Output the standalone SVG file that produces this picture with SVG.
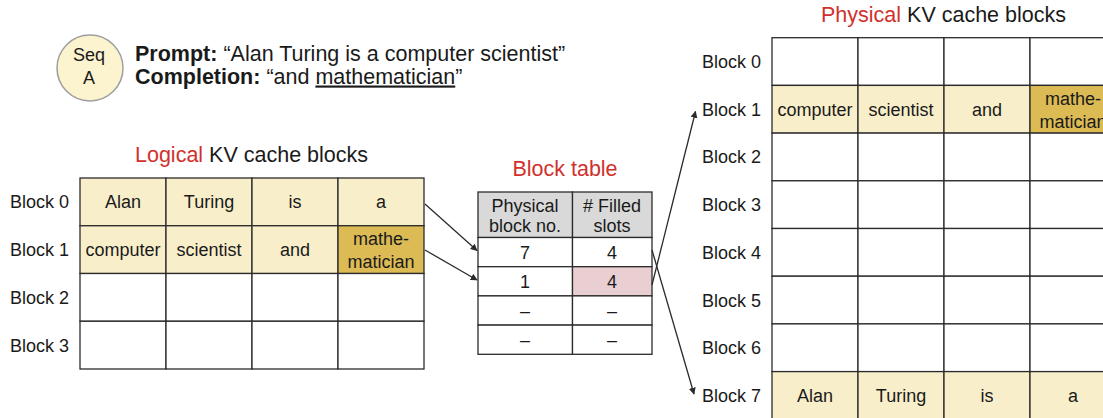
<svg xmlns="http://www.w3.org/2000/svg" width="1103" height="418" viewBox="0 0 1103 418">
  <style>
    text { font-family: "Liberation Sans", Arial, sans-serif; fill: #1a1a1a; }
    .lbl { font-size: 18px; }
    .cell { font-size: 18px; text-anchor: middle; }
    .title { font-size: 21.5px; }
    .red { fill: #d0312d; }
    .head { font-size: 21.5px; }
    .b { font-weight: bold; }
    .grid rect { stroke: #2b2b2b; stroke-width: 1.3; }
    .empty { fill: #ffffff; }
    .tok { fill: #f8efca; }
    .new { fill: #dcbb55; }
    .hdr { fill: #d9d9d9; }
    .slot { fill: #e9cfd2; }
    .conn line { stroke: #2b2b2b; stroke-width: 1.3; marker-end: url(#arrow); }
  </style>
  <defs>
    <marker id="arrow" viewBox="0 0 10 10" refX="9" refY="5" markerWidth="7" markerHeight="7" orient="auto" markerUnits="userSpaceOnUse">
      <path d="M0,0 L10,5 L0,10 z" fill="#2b2b2b"/>
    </marker>
  </defs>

  <rect width="1103" height="418" fill="#ffffff"/>

  <!-- sequence badge and its prompt / completion -->
  <g id="seq-a">
    <circle cx="90" cy="68" r="33" fill="#fcf3cf" stroke="#9e9e9e" stroke-width="1.5"/>
    <text class="lbl" x="89" y="60.5" text-anchor="middle">Seq</text>
    <text class="lbl" x="89" y="84" text-anchor="middle">A</text>
  </g>
  <g id="prompt">
    <text class="head" x="135" y="60.5"><tspan class="b">Prompt:</tspan> “Alan Turing is a computer scientist”</text>
    <text class="head" x="135" y="83.5"><tspan class="b">Completion:</tspan> “and <tspan text-decoration="underline">mathematician</tspan>”</text>
  </g>

  <!-- logical KV cache blocks -->
  <g id="logical-blocks">
    <text class="title" x="135" y="162"><tspan class="red">Logical</tspan> KV cache blocks</text>
    <text class="lbl" x="10" y="208.4">Block 0</text>
    <text class="lbl" x="10" y="256.1">Block 1</text>
    <text class="lbl" x="10" y="303.9">Block 2</text>
    <text class="lbl" x="10" y="351.6">Block 3</text>
    <g class="grid">
      <rect class="tok" x="80" y="178" width="86" height="47.75"/>
      <rect class="tok" x="166" y="178" width="86" height="47.75"/>
      <rect class="tok" x="252" y="178" width="86" height="47.75"/>
      <rect class="tok" x="338" y="178" width="86" height="47.75"/>
      <rect class="tok" x="80" y="225.75" width="86" height="47.75"/>
      <rect class="tok" x="166" y="225.75" width="86" height="47.75"/>
      <rect class="tok" x="252" y="225.75" width="86" height="47.75"/>
      <rect class="new" x="338" y="225.75" width="86" height="47.75"/>
      <rect class="empty" x="80" y="273.5" width="86" height="47.75"/>
      <rect class="empty" x="166" y="273.5" width="86" height="47.75"/>
      <rect class="empty" x="252" y="273.5" width="86" height="47.75"/>
      <rect class="empty" x="338" y="273.5" width="86" height="47.75"/>
      <rect class="empty" x="80" y="321.25" width="86" height="47.75"/>
      <rect class="empty" x="166" y="321.25" width="86" height="47.75"/>
      <rect class="empty" x="252" y="321.25" width="86" height="47.75"/>
      <rect class="empty" x="338" y="321.25" width="86" height="47.75"/>
    </g>
    <text class="cell" x="123" y="208.4">Alan</text>
    <text class="cell" x="209" y="208.4">Turing</text>
    <text class="cell" x="295" y="208.4">is</text>
    <text class="cell" x="381" y="208.4">a</text>
    <text class="cell" x="123" y="256.1">computer</text>
    <text class="cell" x="209" y="256.1">scientist</text>
    <text class="cell" x="295" y="256.1">and</text>
    <text class="cell" x="381" y="244.5">mathe-</text>
    <text class="cell" x="381" y="267.5">matician</text>
  </g>

  <!-- block table -->
  <g id="block-table">
    <text class="title" x="565" y="176" text-anchor="middle" style="fill:#d0312d">Block table</text>
    <g class="grid">
      <rect class="hdr" x="478" y="192" width="94.5" height="45.5"/>
      <rect class="hdr" x="572.5" y="192" width="79.5" height="45.5"/>
      <rect class="empty" x="478" y="237.5" width="94.5" height="29.2"/>
      <rect class="empty" x="572.5" y="237.5" width="79.5" height="29.2"/>
      <rect class="empty" x="478" y="266.7" width="94.5" height="29.2"/>
      <rect class="slot" x="572.5" y="266.7" width="79.5" height="29.2"/>
      <rect class="empty" x="478" y="295.9" width="94.5" height="29.2"/>
      <rect class="empty" x="572.5" y="295.9" width="79.5" height="29.2"/>
      <rect class="empty" x="478" y="325.1" width="94.5" height="29.2"/>
      <rect class="empty" x="572.5" y="325.1" width="79.5" height="29.2"/>
    </g>
    <text class="cell" x="525" y="211.5">Physical</text>
    <text class="cell" x="525" y="231.5">block no.</text>
    <text class="cell" x="612" y="211.5"># Filled</text>
    <text class="cell" x="612" y="231.5">slots</text>
    <text class="cell" x="525" y="258.6">7</text>
    <text class="cell" x="612" y="258.6">4</text>
    <text class="cell" x="525" y="287.8">1</text>
    <text class="cell" x="612" y="287.8">4</text>
    <text class="cell" x="525" y="317">–</text>
    <text class="cell" x="612" y="317">–</text>
    <text class="cell" x="525" y="346.2">–</text>
    <text class="cell" x="612" y="346.2">–</text>
  </g>

  <!-- physical KV cache blocks -->
  <g id="physical-blocks">
    <text class="title" x="821" y="22"><tspan class="red">Physical</tspan> KV cache blocks</text>
    <text class="lbl" x="702" y="68">Block 0</text>
    <text class="lbl" x="702" y="115.7">Block 1</text>
    <text class="lbl" x="702" y="163.4">Block 2</text>
    <text class="lbl" x="702" y="211.1">Block 3</text>
    <text class="lbl" x="702" y="258.8">Block 4</text>
    <text class="lbl" x="702" y="306.5">Block 5</text>
    <text class="lbl" x="702" y="354.2">Block 6</text>
    <text class="lbl" x="702" y="401.9">Block 7</text>
    <g class="grid">
      <rect class="empty" x="772" y="37.7" width="86" height="47.7"/>
      <rect class="empty" x="858" y="37.7" width="86" height="47.7"/>
      <rect class="empty" x="944" y="37.7" width="86" height="47.7"/>
      <rect class="empty" x="1030" y="37.7" width="86" height="47.7"/>
      <rect class="tok" x="772" y="85.4" width="86" height="47.7"/>
      <rect class="tok" x="858" y="85.4" width="86" height="47.7"/>
      <rect class="tok" x="944" y="85.4" width="86" height="47.7"/>
      <rect class="new" x="1030" y="85.4" width="86" height="47.7"/>
      <rect class="empty" x="772" y="133.1" width="86" height="47.7"/>
      <rect class="empty" x="858" y="133.1" width="86" height="47.7"/>
      <rect class="empty" x="944" y="133.1" width="86" height="47.7"/>
      <rect class="empty" x="1030" y="133.1" width="86" height="47.7"/>
      <rect class="empty" x="772" y="180.8" width="86" height="47.7"/>
      <rect class="empty" x="858" y="180.8" width="86" height="47.7"/>
      <rect class="empty" x="944" y="180.8" width="86" height="47.7"/>
      <rect class="empty" x="1030" y="180.8" width="86" height="47.7"/>
      <rect class="empty" x="772" y="228.5" width="86" height="47.7"/>
      <rect class="empty" x="858" y="228.5" width="86" height="47.7"/>
      <rect class="empty" x="944" y="228.5" width="86" height="47.7"/>
      <rect class="empty" x="1030" y="228.5" width="86" height="47.7"/>
      <rect class="empty" x="772" y="276.2" width="86" height="47.7"/>
      <rect class="empty" x="858" y="276.2" width="86" height="47.7"/>
      <rect class="empty" x="944" y="276.2" width="86" height="47.7"/>
      <rect class="empty" x="1030" y="276.2" width="86" height="47.7"/>
      <rect class="empty" x="772" y="323.9" width="86" height="47.7"/>
      <rect class="empty" x="858" y="323.9" width="86" height="47.7"/>
      <rect class="empty" x="944" y="323.9" width="86" height="47.7"/>
      <rect class="empty" x="1030" y="323.9" width="86" height="47.7"/>
      <rect class="tok" x="772" y="371.6" width="86" height="47.7"/>
      <rect class="tok" x="858" y="371.6" width="86" height="47.7"/>
      <rect class="tok" x="944" y="371.6" width="86" height="47.7"/>
      <rect class="tok" x="1030" y="371.6" width="86" height="47.7"/>
    </g>
    <text class="cell" x="815" y="115.7">computer</text>
    <text class="cell" x="901" y="115.7">scientist</text>
    <text class="cell" x="987" y="115.7">and</text>
    <text class="cell" x="1073" y="105">mathe-</text>
    <text class="cell" x="1073" y="128">matician</text>
    <text class="cell" x="815" y="401.9">Alan</text>
    <text class="cell" x="901" y="401.9">Turing</text>
    <text class="cell" x="987" y="401.9">is</text>
    <text class="cell" x="1073" y="401.9">a</text>
  </g>

  <!-- mappings: logical block -> table row -> physical block -->
  <g id="connectors" class="conn">
    <line x1="425" y1="204" x2="477" y2="250.5"/>
    <line x1="425" y1="250" x2="477" y2="280"/>
    <line x1="652" y1="285" x2="695.5" y2="111.5"/>
    <line x1="652" y1="250" x2="694" y2="394"/>
  </g>
</svg>
